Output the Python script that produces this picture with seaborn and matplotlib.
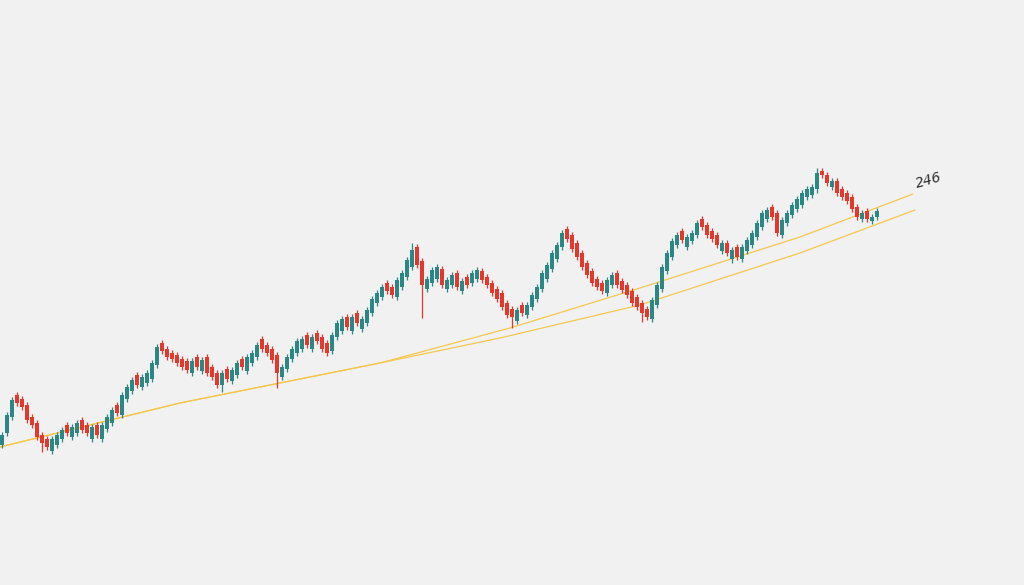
import numpy as np
import pandas as pd
import seaborn as sns
import matplotlib.pyplot as plt

# one candle per entry
opens = [
    140, 152, 168, 190, 186, 180, 168, 162, 150, 146,
    134, 140, 146, 160, 148, 152, 165, 160, 146, 160,
    146, 156, 162, 180, 170, 186, 194, 210, 198, 202,
    206, 220, 242, 236, 232, 230, 226, 224, 212, 228,
    214, 228, 218, 212, 200, 216, 204, 210, 226, 214,
    222, 228, 246, 240, 236, 230, 208, 216, 226, 232,
    236, 250, 236, 252, 248, 242, 234, 248, 254, 268,
    254, 272, 256, 262, 272, 282, 288, 302, 298, 288,
    298, 308, 318, 338, 324, 296, 302, 306, 316, 296,
    300, 312, 294, 308, 302, 306, 314, 308, 302, 296,
    292, 282, 276, 264, 280, 270, 278, 286, 296, 306,
    316, 326, 338, 356, 350, 342, 332, 322, 314, 306,
    302, 292, 300, 312, 304, 300, 294, 288, 282, 276,
    266, 280, 296, 314, 328, 340, 354, 338, 344, 350,
    366, 360, 354, 350, 334, 342, 326, 338, 326, 334,
    340, 348, 358, 366, 378, 372, 350, 362, 370, 376,
    380, 388, 390, 396, 414, 410, 398, 404, 396, 392,
    388, 378, 366, 374, 364, 368,
]
closes = [
    150, 170, 185, 182, 178, 165, 160, 148, 142, 138,
    146, 150, 155, 152, 158, 162, 155, 152, 158, 150,
    160, 168, 175, 172, 190, 198, 205, 200, 208, 212,
    222, 238, 234, 228, 226, 222, 218, 215, 224, 218,
    225, 212, 208, 200, 212, 206, 215, 222, 218, 228,
    232, 240, 236, 232, 225, 212, 218, 228, 236, 244,
    246, 240, 248, 244, 236, 232, 250, 262, 266, 258,
    268, 262, 266, 275, 286, 292, 298, 294, 290, 305,
    312, 325, 335, 320, 300, 306, 315, 318, 300, 305,
    310, 298, 304, 300, 312, 315, 305, 300, 292, 286,
    278, 270, 268, 275, 272, 280, 290, 298, 312, 320,
    332, 340, 352, 346, 336, 328, 318, 310, 302, 298,
    294, 305, 310, 300, 295, 290, 282, 278, 272, 268,
    285, 300, 318, 332, 344, 350, 345, 348, 352, 362,
    358, 350, 346, 340, 342, 332, 335, 328, 338, 345,
    352, 362, 372, 375, 368, 352, 365, 372, 380, 386,
    392, 396, 398, 412, 410, 402, 404, 392, 388, 384,
    376, 368, 372, 366, 368, 374,
]

# candles with long wicks: index -> (high, low)
long_wicks = {
    8: (152, 133), 44: (214, 193), 55: (232, 197), 82: (342, 318),
    84: (326, 267), 102: (278, 257), 128: (284, 263), 146: (338, 322),
    163: (417, 392), 174: (370, 364),
}
wick = 3

# trend lines (candle index, price)
lower_x = [-0.4, 35.6, 69.6, 75.6, 99.6, 127.6, 159.6, 182.6]
lower_y = [138, 182, 216, 222, 247, 280, 332, 375]
upper_x = [-0.4, 35.6, 69.6, 75.6, 101.6, 127.6, 159.6, 182.2]
upper_y = [138, 182, 216, 222, 257, 297, 348, 391]

label_text = "246"

bull = "#2b8784"
bear = "#e2392c"
line_col = "#f4c74e"

df = pd.DataFrame({"open": opens, "close": closes})
df["i"] = np.arange(len(df))
df["high"] = df[["open", "close"]].max(axis=1) + wick
df["low"] = df[["open", "close"]].min(axis=1) - wick
for k, (h, l) in long_wicks.items():
    df.loc[k, "high"] = max(h, df.loc[k, "high"])
    df.loc[k, "low"] = min(l, df.loc[k, "low"])
df["color"] = np.where(df["close"] >= df["open"], bull, bear)

sns.set_theme(style="white")
fig = plt.figure(figsize=(10.24, 5.85), dpi=100, facecolor="#f1f1f1")
ax = fig.add_axes([0, 0, 1, 1])
ax.set_facecolor("#f1f1f1")

sns.lineplot(x=lower_x, y=lower_y, ax=ax, color=line_col, lw=0.9, sort=False)
sns.lineplot(x=upper_x, y=upper_y, ax=ax, color=line_col, lw=0.9, sort=False)

ax.vlines(df["i"], df["low"], df["high"], colors=df["color"], lw=0.9, zorder=3)
body_h = (df["close"] - df["open"]).abs().clip(lower=1.5)
body_b = df[["open", "close"]].min(axis=1)
ax.bar(df["i"], body_h, bottom=body_b, width=0.62, color=df["color"],
       linewidth=0, zorder=4)

ax.text(185.4, 405, label_text, fontsize=10, style="italic", color="#2e2e2e",
        rotation=16, ha="center", va="center")

ax.set_xlim(-0.4, -0.4 + 1024 / 5)
ax.set_ylim(0, 585)
ax.axis("off")

fig.savefig("out.png", dpi=100, facecolor=fig.get_facecolor())
